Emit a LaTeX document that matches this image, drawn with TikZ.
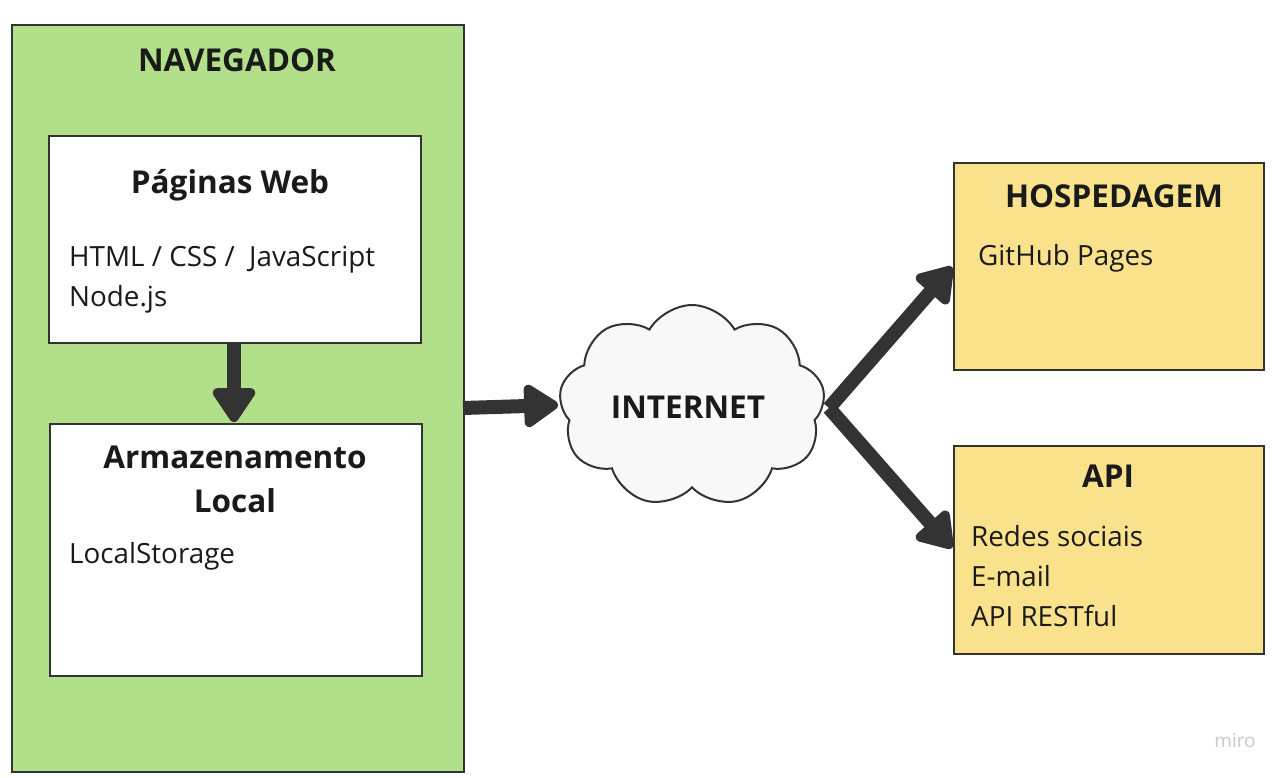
\documentclass[tikz,border=0pt]{standalone}
\usepackage{fontspec}
\setmainfont{Open Sans}
\usetikzlibrary{shapes.symbols,arrows.meta}
\definecolor{grn}{RGB}{178,224,138}
\definecolor{ylw}{RGB}{250,226,140}
\definecolor{edge}{RGB}{51,51,51}
\definecolor{txt}{RGB}{26,26,26}
\definecolor{cloudfill}{RGB}{248,248,248}
\tikzset{
  box/.style={draw=edge, line width=2pt, anchor=north west, inner sep=0pt},
  ttl/.style={font=\fontsize{31.5}{44}\selectfont\bfseries, text=txt},
  bod/.style={font=\fontsize{27.8}{40}\selectfont, text=txt, anchor=base west, inner sep=0pt},
  fat/.style={draw=edge, line width=14pt, line join=round,
    -{Triangle[length=38pt,width=48pt,round]}},
}
\begin{document}
\begin{tikzpicture}[x=1pt,y=-1pt]
\useasboundingbox (0,0) rectangle (1285,777);
% containers
\node[box, fill=grn, minimum width=452pt, minimum height=747pt] (nav) at (11,24) {};
\node[ttl] (navt) at (237,60) {NAVEGADOR};
\node[box, fill=white, minimum width=372pt, minimum height=207pt] (pag) at (48,135) {};
\node[ttl] (pagt) at (230,185) {Páginas Web};
\node[bod] (pag1) at (69,266) {HTML / CSS /\ \ JavaScript};
\node[bod] (pag2) at (69,306) {Node.js};
\node[box, fill=white, minimum width=372pt, minimum height=252pt] (arm) at (49,423) {};
\node[ttl, align=center] (armt) at (235,479) {Armazenamento\\Local};
\node[bod] (arm1) at (69,563) {LocalStorage};
% cloud
\node[cloud, cloud puffs=9, cloud puff arc=120, aspect=1.3, draw=edge, line width=2pt,
  fill=cloudfill, minimum width=266pt, minimum height=202pt, inner sep=0pt] (net) at (692,406) {};
\node[ttl] (nett) at (688,407) {INTERNET};
% right boxes
\node[box, fill=ylw, minimum width=310pt, minimum height=207pt] (hos) at (953,162) {};
\node[ttl] (host) at (1114,196) {HOSPEDAGEM};
\node[bod] (hos1) at (978,265) {GitHub Pages};
\node[box, fill=ylw, minimum width=310pt, minimum height=208pt] (api) at (953,445) {};
\node[ttl] (apit) at (1108,476) {API};
\node[bod] (api1) at (971,546) {Redes sociais};
\node[bod] (api2) at (971,586) {E-mail};
\node[bod] (api3) at (971,626) {API RESTful};
% miro mark
\node[font=\fontsize{19}{22}\selectfont, text={rgb,255:red,200;green,200;blue,205}] (miro) at (1235,741) {miro};
% arrows
\coordinate (c1) at (234,343);
\coordinate (c2) at (234,422);
\draw[fat] (c1) -- (c2);
\coordinate (r1) at (463,408);
\coordinate (r2) at (558,405);
\draw[fat] (r1) -- (r2);
\coordinate (split) at (829,408);
\coordinate (h1) at (952,267);
\coordinate (a1) at (952,548);
\draw[fat] (split) -- (h1);
\draw[fat] (split) -- (a1);
\end{tikzpicture}
\end{document}
